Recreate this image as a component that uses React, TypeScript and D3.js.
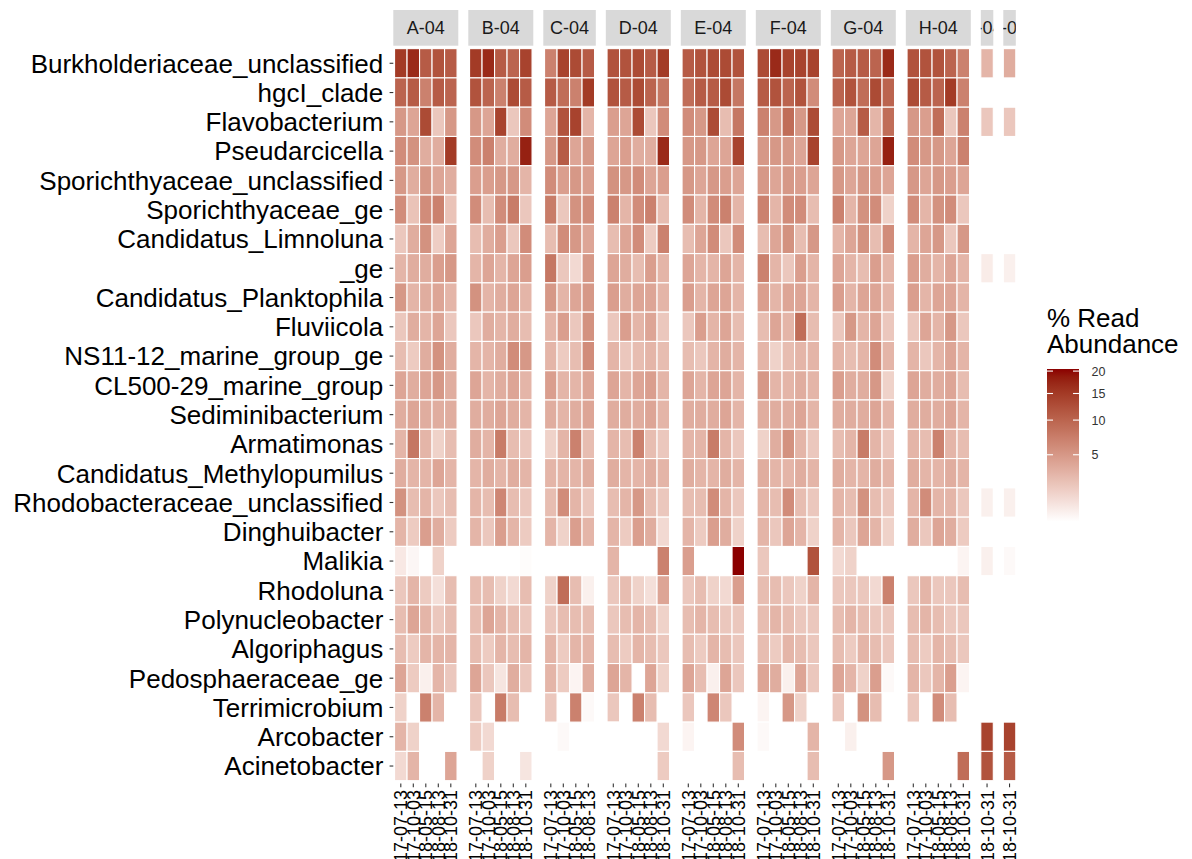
import React from "react";
import * as d3 from "d3";

// Taxa shown on the y axis, top to bottom
const taxa = [
  "Burkholderiaceae_unclassified",
  "hgcI_clade",
  "Flavobacterium",
  "Pseudarcicella",
  "Sporichthyaceae_unclassified",
  "Sporichthyaceae_ge",
  "Candidatus_Limnoluna",
  "_ge",
  "Candidatus_Planktophila",
  "Fluviicola",
  "NS11-12_marine_group_ge",
  "CL500-29_marine_group",
  "Sediminibacterium",
  "Armatimonas",
  "Candidatus_Methylopumilus",
  "Rhodobacteraceae_unclassified",
  "Dinghuibacter",
  "Malikia",
  "Rhodoluna",
  "Polynucleobacter",
  "Algoriphagus",
  "Pedosphaeraceae_ge",
  "Terrimicrobium",
  "Arcobacter",
  "Acinetobacter",
];

// Sampling sites (facets) and their sampling dates
const sites = ["A-04", "B-04", "C-04", "D-04", "E-04", "F-04", "G-04", "H-04", "I-04", "J-04"];
const allDates = ["17-07-13", "17-10-03", "18-05-15", "18-08-13", "18-10-31"];
const datesC = ["17-07-13", "17-10-03", "18-05-15", "18-08-13"];
const datesLate = ["18-10-31"];
const siteDates = [allDates, allDates, datesC, allDates, allDates, allDates, allDates, allDates, datesLate, datesLate];

// % read abundance, one row per taxon, one column per date (null = not detected)
const A04 = [
  [15, 17, 11, 12, 11], [10, 11, 7, 11, 10], [5, 4, 13, 2, 5], [6, 5.5, 3.5, 3.5, 15],
  [5, 3.5, 5, 4, 3.5], [6, 2.2, 6, 7, 2.2], [2, 3.5, 5.5, 1.7, 4], [3, 3.5, 3.5, 4.5, 5],
  [5, 3, 3.5, 4, 3], [2, 3.5, 3, 4, 2], [2.5, 1.8, 3.5, 5.5, 3.5], [4, 3.5, 4, 5, 3.5],
  [3.5, 4, 3.5, 3.5, 3.5], [3, 8, 3, 1.5, 2.5], [3.5, 3, 3, 4, 3], [5.5, 2.5, 3, 2, 2.5],
  [3, 1.8, 4.5, 3.5, 1.8], [0.7, 0.35, null, 1.5, null], [2, 3, 1.8, 1, 2.5], [2.5, 4, 3, 2, 2.5],
  [2.5, 1.8, 3, 3, 3], [4, 1.8, 0.5, 3, 2], [1.5, null, 7, 3, null], [3, 1.5, null, null, 0.2],
  [1.2, 3, null, null, 4],
];
const B04 = [
  [15, 17, 11, 10, 14], [12, 10, 7, 13, 11], [5, 4, 14, 2, 6], [6, 7, 3.5, 3.5, 18],
  [4.5, 4.5, 5, 5, 3], [6, 2.5, 6, 7.5, 2], [2.5, 3.5, 4.5, 2, 6], [3, 4, 3, 4, 4.5],
  [5.5, 3, 3.5, 4, 3], [2, 3.5, 3, 3.5, 2.5], [3, 3, 3.5, 6, 5], [4, 3, 3.5, 4, 3],
  [3.5, 3.5, 4, 3.5, 3], [3.5, 3, 7.5, 2.5, 2], [3, 3.5, 3, 3.5, 3], [3, 2.5, 6.5, 2.5, 2],
  [3, 2, 4.5, 3, 1.8], [null, null, null, null, 0.25], [2.5, 2.5, 1.5, 1.2, 2.5], [2.5, 4, 3, 2.5, 2],
  [2.5, 1.8, 3, 2.5, 3], [4, 2, 0.8, 3.5, 2], [2, null, 7.5, 2.5, null], [1.8, 1.2, null, null, null],
  [0.2, 1.5, null, null, 0.8],
];
const C04 = [
  [7, 14, 13, 11], [11, 9, 7, 15], [4, 12, 14, 3], [5, 11, 4, 5],
  [6, 4.5, 5, 4.5], [7.5, 2, 5.5, 6], [2.5, 6, 5, 4], [8, 2, 1.2, 5],
  [5, 3, 4, 5], [3, 4.5, 2, 5.5], [3, 1.8, 2.5, 6], [4.5, 3, 3, 4],
  [3.5, 3, 3.5, 4], [1.5, 3, 7, 2.5], [3, 3, 3, 3.5], [2.5, 6, 3, 2],
  [3, 1.5, 4.5, 3], [null, null, null, null], [1.5, 9, 2.5, 0.5], [2, 2.5, 2.5, 2.5],
  [3, 1.8, 3, 3], [3, 1.8, 0.4, 3.5], [2, null, 7, 0.3], [null, 0.3, null, null],
  [null, null, null, null],
];
const D04 = [
  [12, 12, 13, 11, 15], [12, 11, 13, 10, 8], [4.5, 4, 13, 2, 6], [4, 4.5, 3.5, 3.5, 17],
  [5.5, 5, 6, 4, 4.5], [7, 3, 6, 7, 2.5], [2.5, 4, 6, 1.8, 7], [4, 3.5, 2.5, 4.5, 3],
  [4.5, 3.5, 4, 4, 3], [2, 4.5, 3, 4, 2], [3, 2, 2.5, 3, 2.5], [4, 3, 4, 4.5, 3],
  [3.5, 3.5, 3.5, 4, 3], [3, 2.5, 7, 2.5, 2], [3.5, 3, 3, 3.5, 3], [2.5, 3, 5, 2.5, 2],
  [3, 1.8, 4.5, 3.5, 1.2], [3, null, null, null, 7], [2, 2.5, 1.5, 1, 4], [2, 2.5, 3, 2.5, 1.5],
  [2.5, 1.8, 3, 2.5, 2], [4, 3, null, 4, 1.5], [2, null, 7, 2.5, null], [0.2, null, null, null, 1.2],
  [null, null, null, null, 1.8],
];
const E04 = [
  [11, 12, 13, 13, 12], [9, 11, 11, 13, 8], [6, 5, 13, 2.5, 8], [5, 5, 4, 4, 14],
  [5, 4, 5, 4.5, 4], [6, 3, 6, 7, 3], [2.5, 4, 6, 2, 6], [4, 3, 3, 4, 3],
  [4.5, 3, 4, 4, 3], [2, 4.5, 3, 4, 2.5], [2.5, 2, 3, 3.5, 3], [4, 3, 4, 4, 3],
  [3.5, 3.5, 3.5, 4, 3], [3, 3, 7.5, 3, 2], [3.5, 3, 3, 3.5, 3], [2.5, 2.5, 6, 3, 2],
  [3, 1.8, 4.5, 3.5, 1.5], [4.5, null, null, null, 20.5], [2, 2.5, 1.5, 1.2, 4.5], [2.5, 3, 2.5, 2, 2],
  [2.5, 1.8, 3, 2.5, 2], [4, 2.5, 0.5, 4, 2], [2, null, 6.5, 2, null], [0.4, null, null, null, 6],
  [null, null, null, null, 2.5],
];
const F04 = [
  [13, 17, 14, 14, 14], [11, 12, 10, 12, 6], [7, 5, 9, 5, 13], [5, 5, 5, 4, 14],
  [5, 4, 5, 4.5, 4], [7, 3, 6, 6, 2.5], [2.5, 4, 5.5, 2.5, 5], [7, 3, 2, 4.5, 3],
  [4.5, 3, 4, 4, 3], [2.5, 4, 3, 9, 2.5], [3, 1.5, 2.5, 3, 3], [5, 3, 3, 3.5, 3],
  [3.5, 3.5, 3.5, 4, 3], [1.5, 3.5, 5.5, 3, 2], [3.5, 3, 3, 3.5, 3], [3, 2.5, 6, 2.5, 2],
  [3, 2, 4, 3, 1.5], [2, null, null, null, 12], [2.5, 2.5, 2, 1.5, 3], [2.5, 3, 2.5, 2, 2],
  [2.5, 1.8, 3, 2.5, 2], [4, 3.5, 0.5, 4, 2], [0.4, null, 5, 1.5, null], [0.3, null, null, null, 3],
  [null, 0.2, null, null, 2.5],
];
const G04 = [
  [10, 11, 11, 10, 17], [10, 12, 9, 13, 10], [4, 4, 11, 3, 9], [5, 4, 4, 4, 18],
  [5, 4, 5, 4.5, 4], [7, 3, 5.5, 6, 1.5], [3, 4, 5.5, 2.5, 6], [4, 3, 2.5, 4.5, 3],
  [4.5, 3, 4, 4, 3], [2, 5, 3, 4, 2], [3, 2.5, 3, 6, 3], [4.5, 3.5, 3.5, 5, 1.5],
  [3.5, 3.5, 3.5, 4, 3], [2.5, 3, 7.5, 3, 2], [3.5, 3, 3, 3.5, 3], [3, 2.5, 5.5, 2.5, 2],
  [3, 2, 4, 3, 1.5], [1.2, 1.5, null, null, null], [2, 2, 2, 1.2, 7], [2.5, 3, 2.5, 2, 2],
  [2.5, 1.8, 3, 2.5, 2], [4, 3, 1.5, 4.5, 0.3], [2, null, 5.5, 2.5, null], [0.2, 0.5, null, null, null],
  [null, null, null, null, 5],
];
const H04 = [
  [12, 12, 12, 10, 7], [13, 11, 10, 15, 7], [5, 4.5, 9, 2, 7], [6, 5, 5, 4, 7],
  [5, 4, 5, 4.5, 4], [6, 3, 5.5, 6, 2], [3, 4, 5, 2, 5], [4.5, 3.5, 3, 4, 3],
  [4.5, 3, 4, 4, 3], [2, 4, 3, 5, 2], [3, 2, 3, 4, 3], [4, 3.5, 3.5, 4, 2.5],
  [3.5, 3.5, 3.5, 4, 3], [3, 2.5, 7, 3, 2.5], [3.5, 3, 3, 3.5, 3], [3, 6, 3, 3, 2],
  [3.5, 2, 4, 3.5, 1.8], [null, null, null, null, 0.4], [2, 3, 2, 2, 2.5], [2.5, 3, 2.5, 2, 2],
  [2.5, 1.8, 3, 2.5, 2], [3, 2, 3, 4.5, 0.4], [2, null, 6, 2.5, null], [null, null, null, null, null],
  [null, null, null, null, 9],
];
const I04 = [
  [3], [null], [2], [null], [null], [null], [null], [0.6], [null], [null], [null], [null], [null],
  [null], [null], [0.5], [null], [0.5], [null], [null], [null], [null], [null], [14], [12],
];
const J04 = [
  [3.5], [null], [2], [null], [null], [null], [null], [0.5], [null], [null], [null], [null], [null],
  [null], [null], [0.5], [null], [0.3], [null], [null], [null], [null], [null], [14], [11],
];
const siteValues = [A04, B04, C04, D04, E04, F04, G04, H04, I04, J04];

// Colour bar
const legendTicks = [5, 10, 15, 20];
const fillDomain: [number, number] = [0.2, 20.5];

const FONT = "'Liberation Sans', Arial, Helvetica, sans-serif";

export default function App() {
  const W = 1192;
  const H = 859;

  // vertical layout
  const stripTop = 10;
  const panelTop = 45.7;
  const panelBottom = 783.6;
  const rowUnit = (panelBottom - panelTop) / (taxa.length + 0.2);
  const y = d3
    .scaleBand<string>()
    .domain(taxa)
    .range([panelTop + 0.1 * rowUnit, panelBottom - 0.1 * rowUnit]);

  // horizontal layout: facet widths follow their number of dates
  const panelLeft = 393.3;
  const colUnit = 12.5;
  const facetGap = 10;
  let cursor = panelLeft;
  const facets = sites.map((name, i) => {
    const dates = siteDates[i];
    const expand = dates.length > 1 ? 0.1 * colUnit : 0;
    const width = dates.length * colUnit + 2 * expand;
    const x0 = cursor;
    cursor += width + facetGap;
    const x = d3
      .scaleBand<string>()
      .domain(dates)
      .range([x0 + expand, x0 + width - expand]);
    return { name, dates, x, x0, width, values: siteValues[i] };
  });

  const t = d3.scaleSqrt().domain(fillDomain).range([0, 1]).clamp(true);
  const ramp = d3.interpolateLab("#FFFFFF", "#8B0000");
  const fill = (v: number) => ramp(t(v));

  // legend geometry
  const barX = 1047;
  const barW = 32;
  const barTop = 369;
  const barBottom = 521.7;
  const legendY = d3.scaleSqrt().domain(fillDomain).range([barBottom, barTop]);
  const gradStops = d3.range(0, 1.0001, 0.05);

  return (
    <svg
      width={W}
      height={H}
      style={{ position: "absolute", left: 0, top: 0, background: "#FFFFFF" }}
      fontFamily={FONT}
    >
      <defs>
        <linearGradient id="fillbar" x1="0" y1="1" x2="0" y2="0">
          {gradStops.map((s) => (
            <stop key={s} offset={s} stopColor={ramp(s)} />
          ))}
        </linearGradient>
        {facets.map((f, i) => (
          <clipPath key={f.name} id={`strip-clip-${i}`}>
            <rect x={f.x0} y={stripTop} width={f.width} height={panelTop - stripTop} />
          </clipPath>
        ))}
      </defs>
      <rect x={0} y={0} width={W} height={H} fill="#FFFFFF" />

      {/* y axis labels and ticks */}
      {taxa.map((name) => {
        const cy = (y(name) ?? 0) + y.bandwidth() / 2;
        return (
          <g key={name}>
            <text x={383.3} y={cy} dy="0.36em" textAnchor="end" fontSize={26} fill="#000000">
              {name}
            </text>
            <line x1={389.6} x2={panelLeft} y1={cy} y2={cy} stroke="#333333" strokeWidth={1.1} />
          </g>
        );
      })}

      {facets.map((f, i) => (
        <g key={f.name}>
          {/* facet strip */}
          <rect x={f.x0} y={stripTop} width={f.width} height={panelTop - stripTop} fill="#D9D9D9" />
          <g clipPath={`url(#strip-clip-${i})`}>
            <text
              x={f.x0 + f.width / 2}
              y={(stripTop + panelTop) / 2}
              dy="0.36em"
              textAnchor="middle"
              fontSize={18}
              fill="#1A1A1A"
            >
              {f.name}
            </text>
          </g>

          {/* tiles */}
          {taxa.map((taxon, r) =>
            f.dates.map((date, c) => {
              const v = f.values[r][c];
              if (v === null || v === undefined) return null;
              return (
                <rect
                  key={`${taxon}-${date}`}
                  x={f.x(date)}
                  y={y(taxon)}
                  width={f.x.bandwidth()}
                  height={y.bandwidth()}
                  fill={fill(v)}
                  stroke="#FFFFFF"
                  strokeWidth={1.1}
                />
              );
            })
          )}

          {/* x ticks and rotated date labels */}
          {f.dates.map((date) => {
            const cx = (f.x(date) ?? 0) + f.x.bandwidth() / 2;
            return (
              <g key={date}>
                <line x1={cx} x2={cx} y1={panelBottom} y2={panelBottom + 3.7} stroke="#333333" strokeWidth={1.1} />
                <text
                  x={cx}
                  y={790}
                  dy="0.36em"
                  textAnchor="end"
                  fontSize={18}
                  fill="#000000"
                  transform={`rotate(-90, ${cx}, 790)`}
                >
                  {date}
                </text>
              </g>
            );
          })}
        </g>
      ))}

      {/* colour bar legend */}
      <text x={barX} y={326.5} fontSize={26} fill="#000000">
        % Read
      </text>
      <text x={barX} y={353} fontSize={26} fill="#000000">
        Abundance
      </text>
      <rect x={barX} y={barTop} width={barW} height={barBottom - barTop} fill="url(#fillbar)" />
      {legendTicks.map((v) => {
        const ty = legendY(v);
        return (
          <g key={v}>
            <line x1={barX} x2={barX + 6} y1={ty} y2={ty} stroke="#FFFFFF" strokeWidth={1.1} />
            <line x1={barX + barW - 6} x2={barX + barW} y1={ty} y2={ty} stroke="#FFFFFF" strokeWidth={1.1} />
            <text x={barX + barW + 12.5} y={ty} dy="0.36em" fontSize={12.5} fill="#333333">
              {v}
            </text>
          </g>
        );
      })}
    </svg>
  );
}
